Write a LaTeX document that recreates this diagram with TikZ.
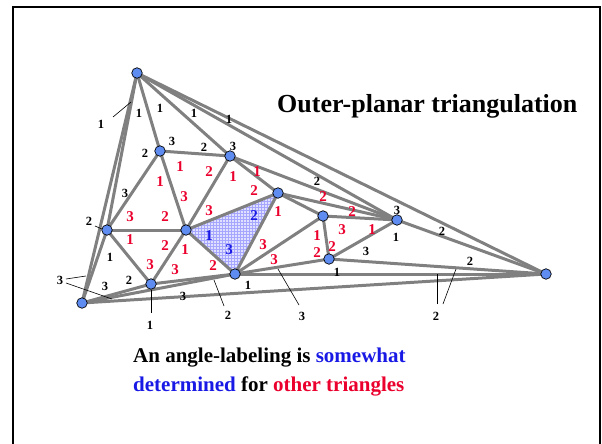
\documentclass[tikz,border=0pt]{standalone}
\usepackage{fontspec}
\setmainfont{Liberation Serif}
\usetikzlibrary{patterns}
\definecolor{edgegray}{RGB}{128,128,128}
\definecolor{nodeblue}{RGB}{95,140,240}
\definecolor{lblred}{RGB}{235,0,45}
\definecolor{lblblue}{RGB}{25,25,230}
\tikzset{
  vtx/.style={circle,draw=black,line width=0.7pt,fill=nodeblue,minimum size=10.5pt,inner sep=0pt},
  edge/.style={draw=edgegray,line width=3pt},
  bl/.style={font=\fontsize{12.5}{12.5}\selectfont\bfseries,text=black,inner sep=0pt},
  rl/.style={font=\fontsize{15}{15}\selectfont\bfseries,text=lblred,inner sep=0pt},
  bu/.style={font=\fontsize{15}{15}\selectfont\bfseries,text=lblblue,inner sep=0pt},
  lead/.style={draw=black,line width=0.6pt}
}
\begin{document}
\begin{tikzpicture}[x=1pt,y=-1pt]
\useasboundingbox (0,0) rectangle (602,444);
\begin{scope}
\clip (0,0) rectangle (602,444);
\draw[line width=2pt] (13,7) rectangle (599.5,452);
\end{scope}
% vertices coordinates
\coordinate (pA) at (137,73);
\coordinate (pB) at (160,151);
\coordinate (pC) at (230,156);
\coordinate (pD) at (107,230);
\coordinate (pE) at (186,230);
\coordinate (pF) at (278,193);
\coordinate (pG) at (323,216);
\coordinate (pH) at (397,220);
\coordinate (pI) at (82,303);
\coordinate (pJ) at (151,284);
\coordinate (pK) at (235,274);
\coordinate (pL) at (329,259);
\coordinate (pM) at (546,274);
% highlighted triangle
\fill[blue!12] (pE) -- (pF) -- (pK) -- cycle;
\fill[pattern=grid,pattern color=blue!35] (pE) -- (pF) -- (pK) -- cycle;
% edges
\foreach \u/\v in {A/I,A/D,A/B,A/C,A/H,A/M,B/C,B/D,B/E,C/E,C/F,C/H,D/E,D/J,D/I,E/F,E/J,E/K,F/K,F/G,F/H,G/H,G/L,G/K,H/L,H/M,I/J,I/K,I/M,J/K,K/L,K/M,L/M}
  \draw[edge] (p\u) -- (p\v);
% nodes
\foreach \n in {A,B,C,D,E,F,G,H,I,J,K,L,M}
  \node[vtx] (\n) at (p\n) {};
% black labels
\node[bl] (b1) at (101,124) {1};
\coordinate (b1e) at (131,102);
\draw[lead] (113,117) -- (b1e);
\node[bl] at (139,113) {1};
\node[bl] at (160,108) {1};
\node[bl] at (194,113) {1};
\node[bl] at (229,119) {1};
\node[bl] at (145,153) {2};
\node[bl] at (172,141) {3};
\node[bl] at (204,147) {2};
\node[bl] at (233,146) {3};
\node[bl] at (125,193) {3};
\node[bl] at (89,221) {2};
\draw[lead] (95,226) -- (102,229);
\node[bl] at (110,257) {1};
\node[bl] at (60,280) {3};
\draw[lead] (66,279) -- (86,276);
\draw[lead] (66,283) -- (112,299);
\node[bl] at (105,286) {3};
\node[bl] at (129,280) {2};
\node[bl] at (150,325) {1};
\draw[lead] (151,290) -- (151,313);
\node[bl] at (183,296) {3};
\node[bl] at (228,315) {2};
\draw[lead] (214,280) -- (224,306);
\node[bl] at (248,285) {1};
\node[bl] at (337,272) {1};
\node[bl] at (366,251) {3};
\node[bl] at (317,181) {2};
\node[bl] at (397,210) {3};
\node[bl] at (396,237) {1};
\node[bl] at (442,231) {2};
\node[bl] at (470,261) {2};
\node[bl] at (436,316) {2};
\draw[lead] (437,304) -- (437,274);
\draw[lead] (443,304) -- (456,269);
\node[bl] at (302,316) {3};
\draw[lead] (299,305) -- (278,269);
% red labels
\node[rl] at (180,167) {1};
\node[rl] at (209,172) {2};
\node[rl] at (233,177) {1};
\node[rl] at (160,182) {1};
\node[rl] at (184,197) {3};
\node[rl] at (130,217) {3};
\node[rl] at (165,217) {2};
\node[rl] at (130,240) {1};
\node[rl] at (165,246) {2};
\node[rl] at (185,250) {1};
\node[rl] at (150,265) {3};
\node[rl] at (175,270) {3};
\node[rl] at (213,266) {2};
\node[rl] at (209,211) {3};
\node[rl] at (257,172) {1};
\node[rl] at (254,191) {2};
\node[rl] at (278,212) {1};
\node[rl] at (323,197) {2};
\node[rl] at (352,212) {2};
\node[rl] at (263,245) {3};
\node[rl] at (274,260) {3};
\node[rl] at (317,236) {1};
\node[rl] at (342,230) {3};
\node[rl] at (372,230) {1};
\node[rl] at (317,253) {2};
\node[rl] at (332,247) {2};
% blue labels
\node[bu] at (254,216) {2};
\node[bu] at (209,236) {1};
\node[bu] at (229,250) {3};
% title and caption
\node[anchor=west,font=\fontsize{26}{26}\selectfont\bfseries,inner sep=0pt] (title) at (277,106) {Outer-planar triangulation};
\node[anchor=west,font=\fontsize{21}{21}\selectfont\bfseries,inner sep=0pt] (cap1) at (133,358) {An angle-labeling is \textcolor{lblblue}{somewhat}};
\node[anchor=west,font=\fontsize{21}{21}\selectfont\bfseries,inner sep=0pt] (cap2) at (133,386) {\textcolor{lblblue}{determined} for \textcolor{lblred}{other triangles}};
\end{tikzpicture}
\end{document}
